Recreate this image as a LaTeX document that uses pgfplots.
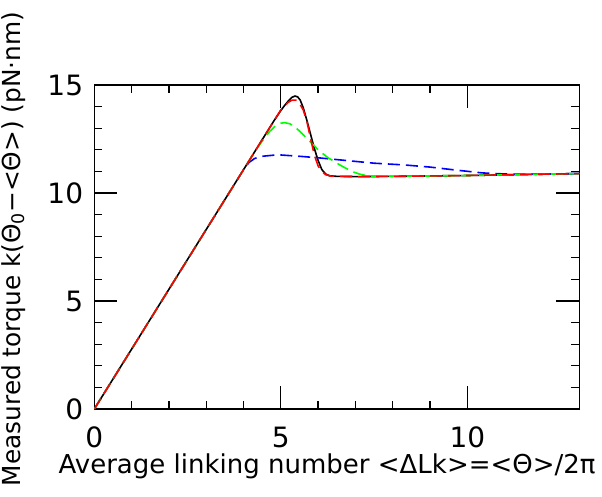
\documentclass[border=0pt]{standalone}
\usepackage{fontspec}
\setmainfont{DejaVu Sans}
\usepackage{pgfplots}
\pgfplotsset{compat=1.18}

\begin{document}
\begin{tikzpicture}
\useasboundingbox (-94.3pt,-87pt) rectangle (507.7pt,409pt);
\begin{axis}[
  at={(0pt,0pt)}, anchor=south west,
  scale only axis,
  width=485pt, height=324pt,
  xmin=0, xmax=13, ymin=0, ymax=15,
  xtick={0,5,10}, ytick={0,5,10,15},
  minor x tick num=4, minor y tick num=4,
  tick align=inside,
  major tick length=23pt, minor tick length=8pt,
  every tick/.style={black, line width=1.3pt},
  axis line style={line width=1.3pt},
  font=\fontsize{26}{30}\selectfont,
  tick label style={font=\fontsize{28}{32}\selectfont},
  /pgf/number format/assume math mode=true,
  xticklabel style={anchor=center, yshift=-28pt},
  yticklabel style={anchor=east, inner sep=0pt, xshift=-11pt},
  xlabel={Average linking number <ΔLk>=<Θ>/2π},
  ylabel={Measured torque k(Θ\textsubscript{0}−<Θ>) (pN·nm)},
  xlabel style={at={(axis description cs:0.48,0)}, anchor=center, yshift=-57pt},
  ylabel style={at={(axis description cs:-0.167,0.494)}, anchor=center,
    font=\fontsize{24.8}{28}\selectfont},
  clip=true,
]
% black solid
\addplot[black, line width=1.6pt] coordinates {
  (0,0) (4.0,11.08) (4.8,13.3) (5.0,13.82) (5.1,14.05) (5.2,14.26) (5.3,14.43)
  (5.38,14.49) (5.45,14.45) (5.52,14.3) (5.6,13.95) (5.7,13.35) (5.8,12.7)
  (5.9,12.05) (6.0,11.5) (6.1,11.08) (6.2,10.88) (6.3,10.8) (6.5,10.77)
  (7,10.76) (8,10.77) (9,10.79) (10,10.81) (11,10.84) (12,10.87) (13,10.9)
};
% blue dashed
\addplot[blue, line width=1.6pt, dash pattern=on 12pt off 6pt] coordinates {
  (0,0) (4.0,11.08) (4.15,11.42) (4.3,11.6) (4.5,11.7) (4.8,11.75) (5.0,11.76)
  (5.5,11.7) (6.0,11.63) (6.6,11.53) (7.5,11.38) (8.3,11.3) (9.0,11.2)
  (9.7,11.06) (10.4,10.93) (11.0,10.88) (11.7,10.87) (12.3,10.88) (13,10.91)
};
% green dashed
\addplot[green, line width=1.6pt, dash pattern=on 12pt off 6pt] coordinates {
  (0,0) (4.3,11.91) (4.5,12.4) (4.7,12.85) (4.85,13.1) (5.0,13.23) (5.1,13.26)
  (5.25,13.2) (5.45,12.95) (5.6,12.7) (5.8,12.35) (6.0,12.0) (6.25,11.65)
  (6.6,11.28) (6.9,11.0) (7.1,10.88) (7.3,10.8) (7.6,10.77) (8,10.77)
  (9,10.79) (10,10.81) (11,10.84) (12,10.87) (13,10.9)
};
% red dashed
\addplot[red, line width=1.6pt, dash pattern=on 12pt off 6pt] coordinates {
  (0,0) (4.0,11.08) (5.0,13.85) (5.2,14.2) (5.3,14.3) (5.4,14.3) (5.5,14.15)
  (5.6,13.85) (5.7,13.3) (5.8,12.5) (5.9,11.75) (6.0,11.25) (6.1,11.0)
  (6.2,10.85) (6.35,10.78) (7,10.76) (8,10.77) (9,10.79) (10,10.81)
  (11,10.84) (12,10.87) (13,10.9)
};
\end{axis}
\end{tikzpicture}
\end{document}
